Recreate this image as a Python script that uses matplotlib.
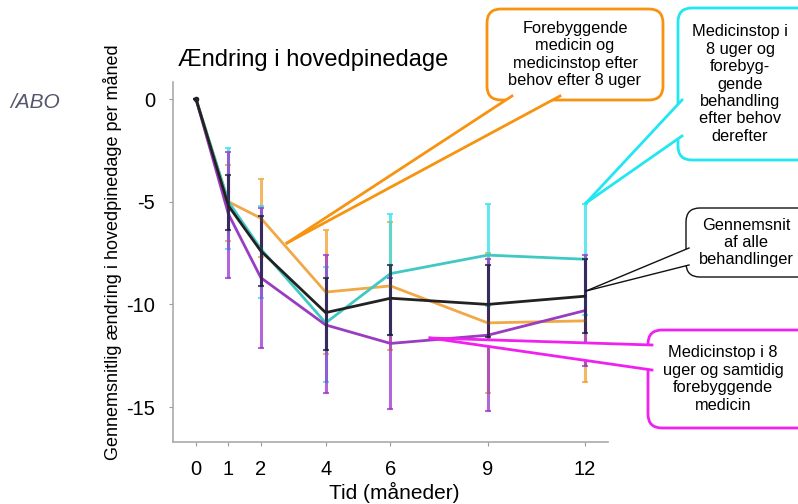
import matplotlib.pyplot as plt
from matplotlib.patches import FancyBboxPatch, Polygon
from matplotlib.lines import Line2D
from matplotlib.transforms import IdentityTransform

plt.rcParams['font.family'] = ['Liberation Sans', 'DejaVu Sans']
plt.rcParams['axes.unicode_minus'] = False

months = [0, 1, 2, 4, 6, 9, 12]

# mean change per group
orange = [0, -5.0, -5.8, -9.4, -9.1, -10.9, -10.8]
cyan = [0, -5.0, -7.3, -10.9, -8.5, -7.6, -7.8]
purple = [0, -5.6, -8.7, -11.0, -11.9, -11.5, -10.3]
black = [0, -5.2, -7.4, -10.4, -9.7, -10.0, -9.6]

# error bar ends (low, high)
orange_lo = [0, -6.9, -7.7, -12.4, -12.2, -14.3, -13.8]
orange_hi = [0, -3.2, -3.9, -6.4, -6.0, -7.5, -7.8]
cyan_lo = [0, -7.3, -9.7, -13.8, -11.5, -10.1, -10.5]
cyan_hi = [0, -2.4, -5.2, -8.2, -5.6, -5.1, -5.1]
purple_lo = [0, -8.7, -12.1, -14.3, -15.1, -15.2, -13.0]
purple_hi = [0, -2.6, -5.3, -7.6, -8.7, -7.8, -7.6]
black_lo = [0, -6.4, -9.1, -12.2, -11.5, -11.6, -11.4]
black_hi = [0, -3.7, -5.7, -8.7, -8.1, -8.1, -7.8]

W, H = 798, 504
fig = plt.figure(figsize=(W / 100, H / 100), dpi=100)
ax = fig.add_axes([173 / W, 1 - 442 / H, (608 - 173) / W, (442 - 82) / H])


def draw(vals, lo, hi, line_col, err_col, lw=2.0, z=2):
    yerr = [[v - l for v, l in zip(vals, lo)], [h - v for v, h in zip(vals, hi)]]
    ax.errorbar(months, vals, yerr=yerr, fmt='none', ecolor=err_col, elinewidth=2.2,
                capsize=2, capthick=1.5, alpha=0.75, zorder=z)
    ax.plot(months, vals, color=line_col, lw=lw, zorder=z + 1)


draw(orange, orange_lo, orange_hi, '#f0a848', '#f0a030')
draw(cyan, cyan_lo, cyan_hi, '#40c8c4', '#30e0ec')
draw(purple, purple_lo, purple_hi, '#9a3cc0', '#9933cc')
draw(black, black_lo, black_hi, '#222222', '#1a1a3a', lw=2.0, z=5)
ax.plot([0], [0], marker='o', ms=3, color='#222222', zorder=7)

ax.set_xlim(-0.71, 12.71)
ax.set_ylim(-16.7, 0.83)
ax.set_xticks(months)
ax.set_yticks([0, -5, -10, -15])
ax.tick_params(labelsize=14.5, colors='#999999', labelcolor='black', length=3, pad=10)
for s in ['top', 'right']:
    ax.spines[s].set_visible(False)
for s in ['left', 'bottom']:
    ax.spines[s].set_color('#aaaaaa')
    ax.spines[s].set_linewidth(1.2)

fig.text(178 / W, 1 - 60 / H, 'Ændring i hovedpinedage', fontsize=17, va='center', ha='left')
fig.text(113 / W, 1 - 252 / H, 'Gennemsnitlig ændring i hovedpinedage per måned',
         fontsize=13, rotation=90, ha='center', va='center')
fig.text(394 / W, 1 - 492 / H, 'Tid (måneder)', fontsize=15, ha='center', va='center')
fig.text(10 / W, 1 - 103 / H, '/ABO', fontsize=15, style='italic', color='#555570',
         ha='left', va='center')

idt = IdentityTransform()


def px(x, y):
    return (x, H - y)


def callout(x0, y0, x1, y1, base1, base2, tip, color, text, tx, lw=2.0):
    box = FancyBboxPatch(px(x0, y1), x1 - x0, y1 - y0, boxstyle='round,pad=0,rounding_size=14',
                         fc='white', ec=color, lw=lw, transform=idt, zorder=10)
    fig.add_artist(box)
    fill = Polygon([px(*base1), px(*base2), px(*tip)], closed=True, fc='white', ec='none',
                   transform=idt, zorder=11)
    fig.add_artist(fill)
    for b in (base1, base2):
        fig.add_artist(Line2D([px(*b)[0], px(*tip)[0]], [px(*b)[1], px(*tip)[1]], color=color,
                              lw=lw, transform=idt, zorder=12))
    fig.text(tx / W, 1 - (y0 + y1) / 2 / H, text, fontsize=11.8, ha='center',
             va='center', linespacing=1.2, zorder=13)


callout(487, 9, 663, 100, (512, 96), (560, 96), (287, 243), '#f7930f',
        'Forebyggende\nmedicin og\nmedicinstop efter\nbehov efter 8 uger', 575)
callout(678, 8, 812, 160, (682, 100), (682, 136), (586, 203), '#22e6f0',
        'Medicinstop i\n8 uger og\nforebyg-\ngende\nbehandling\nefter behov\nderefter', 740)
callout(686, 208, 812, 277, (689, 248), (689, 265), (586, 291), '#111111',
        'Gennemsnit\naf alle\nbehandlinger', 746, lw=1.0)
callout(648, 330, 812, 428, (652, 345), (652, 370), (430, 338), '#f020f0',
        'Medicinstop i 8\nuger og samtidig\nforebyggende\nmedicin', 723)

fig.savefig('out.png', dpi=100)
